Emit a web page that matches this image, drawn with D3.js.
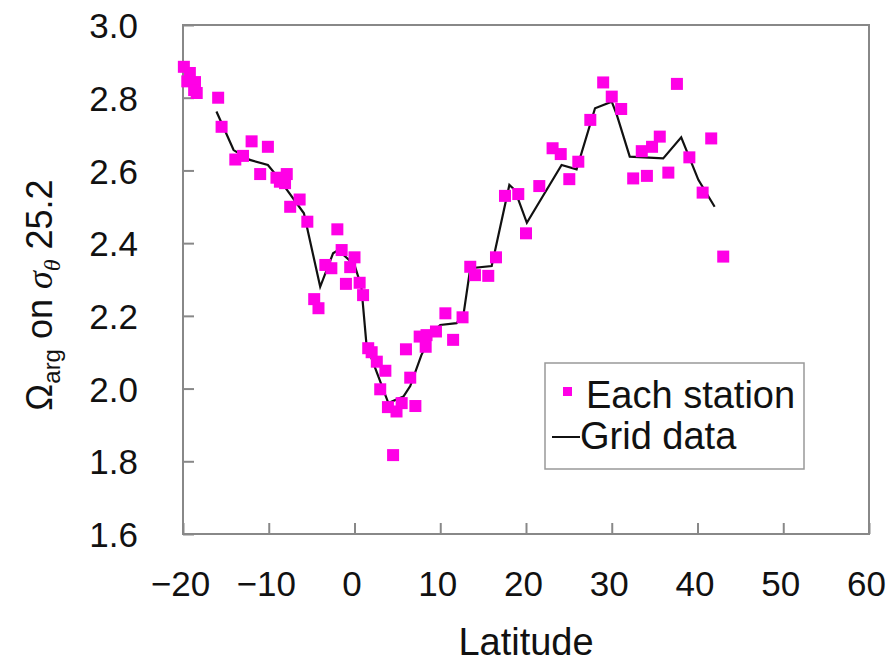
<!DOCTYPE html>
<html>
<head>
<meta charset="utf-8">
<script src="https://cdn.jsdelivr.net/npm/d3@7"></script>
<style>
  body { margin: 0; background: #fff; }
  svg text { font-family: "Liberation Sans", Arial, sans-serif; fill: #111; }
</style>
</head>
<body>
<div id="chart"></div>
<script>
// station observations: [latitude, omega]
const stationLat = [-19.9, -19.2, -19.5, -18.6, -18.7, -18.4, -15.9, -15.5, -13.9, -13.0,
  -12.0, -10.1, -11.0, -9.1, -7.9, -8.7, -8.1, -7.5, -6.4, -5.5,
  -2.0, -1.5, -3.4, -2.7, 0.0, -0.5, -1.0, 0.6, 1.0, -4.7,
  -4.2, 1.6, 2.0, 2.6, 3.6, 6.0, 6.5, 7.6, 8.4, 8.3,
  9.5, 10.6, 11.5, 12.6, 3.0, 3.9, 4.9, 5.5, 7.1, 4.5,
  13.5, 14.05, 15.6, 16.5, 17.55, 19.1, 20.0, 21.55, 23.1, 24.05,
  25.05, 26.1, 27.5, 29.0, 30.0, 31.1, 37.6, 35.6, 34.7, 33.5,
  32.5, 34.1, 36.6, 39.05, 41.6, 40.6, 43.0];
const stationOmega = [2.885, 2.868, 2.845, 2.843, 2.821, 2.813, 2.80, 2.72, 2.63, 2.64,
  2.68, 2.665, 2.59, 2.58, 2.59, 2.569, 2.565, 2.50, 2.52, 2.459,
  2.438, 2.381, 2.34, 2.331, 2.361, 2.334, 2.288, 2.291, 2.257, 2.246,
  2.221, 2.111, 2.10, 2.074, 2.049, 2.108, 2.03, 2.143, 2.147, 2.115,
  2.157, 2.207, 2.134, 2.196, 1.998, 1.949, 1.937, 1.96, 1.952, 1.817,
  2.335, 2.312, 2.31, 2.361, 2.53, 2.535, 2.427, 2.557, 2.661, 2.645,
  2.576, 2.624, 2.739, 2.842, 2.803, 2.769, 2.838, 2.693, 2.665, 2.653,
  2.578, 2.585, 2.594, 2.636, 2.688, 2.539, 2.363];

// gridded data
const gridLat = [-16.1, -14.1, -12.2, -10.1, -9.3, -8.3, -5.9, -4.0, -2.5, -1.9,
  0.0, 0.8, 1.4, 3.95, 5.7, 6.5, 7.8, 9.2, 10.0, 11.9,
  12.7, 13.5, 16.0, 18.06, 18.7, 20.1, 24.15, 25.9, 28.05, 30.0,
  30.6, 32.1, 36.0, 38.1, 40.1, 42.0];
const gridOmega = [2.762, 2.656, 2.629, 2.615, 2.592, 2.56, 2.482, 2.28, 2.372, 2.381,
  2.34, 2.28, 2.12, 1.96, 1.978, 2.007, 2.092, 2.157, 2.175, 2.18,
  2.202, 2.331, 2.337, 2.56, 2.546, 2.456, 2.615, 2.603, 2.771, 2.789,
  2.752, 2.638, 2.633, 2.691, 2.574, 2.50];

const xTicks = [-20, -10, 0, 10, 20, 30, 40, 50, 60];
const yTicks = [1.6, 1.8, 2.0, 2.2, 2.4, 2.6, 2.8, 3.0];

const W = 895, H = 664;
const plot = {left: 183, right: 869, top: 25, bottom: 534};

const svg = d3.select('#chart').append('svg')
  .attr('width', W).attr('height', H);

const x = d3.scaleLinear().domain([-20, 60]).range([plot.left, plot.right]);
const y = d3.scaleLinear().domain([1.6, 3.0]).range([plot.bottom, plot.top]);

// axes with inward ticks
const xAxis = svg.append('g')
  .attr('transform', `translate(0, ${plot.bottom})`)
  .call(d3.axisBottom(x).tickValues(xTicks).tickSize(-11)
    .tickFormat(d => d < 0 ? '\u2212' + Math.abs(d) : d));
xAxis.select('.domain').remove();
xAxis.selectAll('line').attr('stroke', '#888').attr('stroke-width', 2);
xAxis.selectAll('text')
  .attr('x', -3).attr('y', 62).attr('dy', null)
  .attr('font-size', 35).attr('fill', '#111');

const yAxis = svg.append('g')
  .attr('transform', `translate(${plot.left}, 0)`)
  .call(d3.axisLeft(y).tickValues(yTicks).tickSize(-11)
    .tickFormat(d3.format('.1f')));
yAxis.select('.domain').remove();
yAxis.selectAll('line').attr('stroke', '#888').attr('stroke-width', 2);
yAxis.selectAll('text')
  .attr('x', -45).attr('dy', '0.36em')
  .attr('font-size', 35).attr('fill', '#111');

// frame
svg.append('rect')
  .attr('x', plot.left).attr('y', plot.top)
  .attr('width', plot.right - plot.left).attr('height', plot.bottom - plot.top)
  .attr('fill', 'none').attr('stroke', '#888').attr('stroke-width', 2);

// grid line
const gridData = gridLat.map((d, i) => ({lat: d, v: gridOmega[i]}));
svg.append('path')
  .datum(gridData)
  .attr('fill', 'none')
  .attr('stroke', '#111')
  .attr('stroke-width', 2.2)
  .attr('d', d3.line().x(d => x(d.lat)).y(d => y(d.v)));

// station markers
const stations = stationLat.map((d, i) => ({lat: d, v: stationOmega[i]}));
const ms = 12;
svg.append('g').selectAll('rect')
  .data(stations)
  .enter()
  .append('rect')
  .attr('x', d => x(d.lat) - ms / 2)
  .attr('y', d => y(d.v) - ms / 2)
  .attr('width', ms).attr('height', ms)
  .attr('fill', '#ff00e6');

// legend
const lg = svg.append('g');
lg.append('rect')
  .attr('x', 545).attr('y', 363).attr('width', 259).attr('height', 106)
  .attr('fill', '#fff').attr('stroke', '#999').attr('stroke-width', 1.5);
lg.append('rect')
  .attr('x', 563).attr('y', 387).attr('width', 9).attr('height', 9)
  .attr('fill', '#ff00e6');
lg.append('text').attr('x', 586).attr('y', 408)
  .attr('font-size', 38).text('Each station');
lg.append('line')
  .attr('x1', 552).attr('x2', 580).attr('y1', 437).attr('y2', 437)
  .attr('stroke', '#111').attr('stroke-width', 2);
lg.append('text').attr('x', 580).attr('y', 449)
  .attr('font-size', 38).text('Grid data');

// axis titles
svg.append('text')
  .attr('x', (plot.left + plot.right) / 2).attr('y', 655)
  .attr('text-anchor', 'middle')
  .attr('font-size', 38).text('Latitude');

const yt = svg.append('text')
  .attr('transform', 'translate(52, 295) rotate(-90)')
  .attr('text-anchor', 'middle')
  .attr('font-size', 36);
yt.append('tspan').text('\u03A9');
yt.append('tspan').attr('font-size', 24).attr('dy', 8).text('arg');
yt.append('tspan').attr('dy', -8).text(' on ');
yt.append('tspan').attr('font-family', '"Liberation Serif", serif')
  .attr('font-style', 'italic').text('\u03C3');
yt.append('tspan').attr('font-family', '"Liberation Serif", serif')
  .attr('font-style', 'italic').attr('font-size', 24).attr('dy', 8).text('\u03B8');
yt.append('tspan').attr('dy', -8).text(' 25.2');
</script>
</body>
</html>
